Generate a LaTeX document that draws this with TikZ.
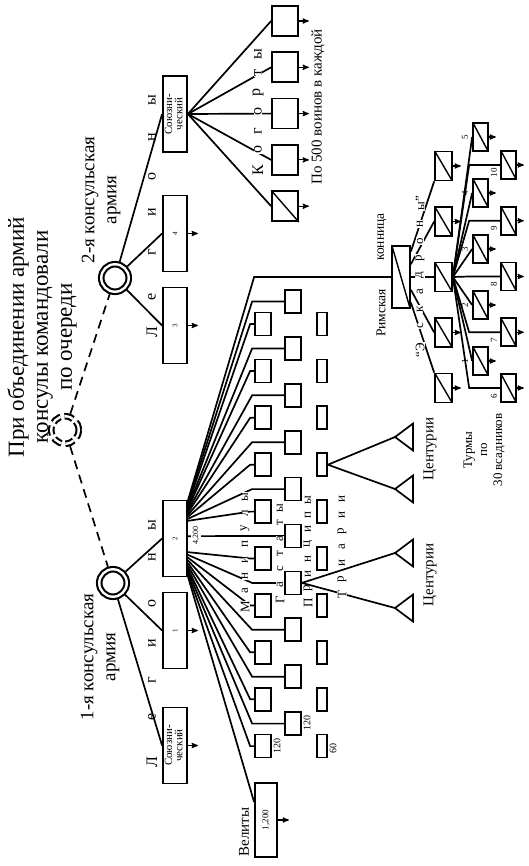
\documentclass[tikz,border=0pt]{standalone}
\usepackage{fontspec}
\setmainfont{Liberation Serif}
\usepackage{graphicx}
\usetikzlibrary{arrows, positioning, calc}
\newcommand{\fsz}[1]{\fontsize{#1}{#1}\selectfont}
\newcommand{\allytext}{\rotatebox{90}{\fontsize{11}{9}\selectfont
    \begin{tabular}{@{}c@{}}Союзни-\\ческий\end{tabular}}}
\tikzset{
    legbox/.style = {draw, line width=1.8pt, inner sep=0pt,
        minimum width=24pt, minimum height=76pt, font=\fsz{7}},
    manbox/.style = {draw, line width=1.7pt, inner sep=0pt,
        minimum width=16pt, minimum height=23pt},
    triabox/.style = {manbox, minimum width=10pt},
    cohbox/.style = {manbox, minimum width=26pt, minimum height=30pt},
    slash/.style = {path picture={\draw[line width=1.4pt]
        (path picture bounding box.north west) -- (path picture bounding box.south east);}},
    eqbox/.style = {manbox, slash, minimum width=17pt, minimum height=29pt},
    turbox/.style = {manbox, slash, minimum width=15pt, minimum height=28pt},
    army/.style = {circle, draw, line width=2.1pt, double, double distance=2.4pt,
        minimum size=27.5pt, inner sep=0pt, outer sep=3.2pt},
    link/.style = {line width=1.7pt},
    tick/.style = {->, >=stealth', line width=1.2pt},
    txt/.style = {rotate=90, inner sep=1pt, align=center},
    ltr/.style = {rotate=90, fill=white, inner sep=0.4pt, font=\fsz{#1}},
}

\begin{document}
\begin{tikzpicture}[x=1pt, y=-1pt]
\useasboundingbox (0,0) rectangle (528,866);

\node[txt, font=\fontsize{23}{24}\selectfont] (title) at (42,337)
    {При объединении армий\\консулы командовали\\по очереди};

% armies
\node[army, dash pattern=on 9pt off 4pt] (union) at (65,430) {};
\node[army] (army2) at (115,278) {};
\node[army] (army1) at (113,583) {};
\draw[link, dash pattern=on 9pt off 6pt] (union) -- (army2) (union) -- (army1);
\node[txt, font=\fontsize{19}{22}\selectfont] at (101,200) {2-я консульская\\армия};
\node[txt, font=\fontsize{19}{22}\selectfont] at (100,657) {1-я консульская\\армия};

% legions
\node[legbox] (ally2) at (175,114) {\allytext};
\node[legbox] (leg4) at (175,233.5) {\rotatebox{90}{4}};
\node[legbox] (leg3) at (175,325.5) {\rotatebox{90}{3}};
\node[legbox] (leg2) at (175,538.5) {\rotatebox{90}{2}};
\node[legbox] (leg1) at (175,630.5) {\rotatebox{90}{1}};
\node[legbox] (ally1) at (175,745.5) {\allytext};
\foreach \n in {ally2,leg4,leg3} \draw[link] (army2) -- (\n.west);
\foreach \n in {leg2,leg1,ally1} \draw[link] (army1) -- (\n.west);
\foreach \n in {leg4,leg3,leg1,ally1} \draw[tick] (\n.east) -- ([xshift=10pt]\n.east);
\foreach \y/\c in {332/Л,297/е,252/г,212/и,177/о,137/н,100/ы,
                   762/Л,717/е,680/г,643/и,603/о,557/н,525/ы}
    \node[rotate=90, font=\fsz{16}] at (152,\y) {\c};

% cohorts
\foreach \i in {0,...,4} {
    \node[cohbox] (coh\i) at (285,21+46.3*\i) {};
    \draw[link] (ally2.east) -- (coh\i.west);
    \draw[tick] (coh\i.east) -- ([xshift=10pt]coh\i.east);
}
\draw[line width=1.4pt] (coh4.north west) -- (coh4.south east);
\foreach \y/\c in {170/К,150/о,131/г,112/о,93/р,73/т,54/ы}
    \node[ltr=16] at (258,\y) {\c};
\node[txt, font=\fsz{15}] at (318,107) {По 500 воинов в каждой};

% maniples
\foreach \i in {0,...,9} {
    \node[manbox] (hast\i) at (263,324+46.9*\i) {};
    \node[manbox] (prin\i) at (293,301.5+46.9*\i) {};
    \node[triabox] (tria\i) at (322,324+46.9*\i) {};
    \pgfmathsetmacro{\ta}{\i<5 ? (5+4*\i)/77 : (52+5.4*(\i-5))/77}
    \pgfmathsetmacro{\tb}{\i<5 ? (3+4*\i)/77 : (\i==5 ? 0.47 : (54.7+5.4*(\i-6))/77)}
    \draw[link] ($(leg2.north east)!\ta!(leg2.south east)$) -- ($(hast\i.west)+(-4,0)$) -- (hast\i.west);
    \draw[link] ($(leg2.north east)!\tb!(leg2.south east)$) -- ($(prin\i.west)+(-32,0)$) -- (prin\i.west);
}
\node[txt, font=\fsz{10}] at (277,746) {120};
\node[txt, font=\fsz{10}] at (307,723) {120};
\node[txt, font=\fsz{10}] at (333,748) {60};

% velites and cavalry
\node[draw, line width=1.8pt, inner sep=0pt, minimum width=22pt, minimum height=74pt,
    font=\fsz{9}] (vel) at (266,820) {\rotatebox{90}{1,200}};
\node[txt, font=\fsz{15}] at (244,832) {Велиты};
\draw[link] ($(leg2.north east)!0.987!(leg2.south east)$) -- ($(vel.west)+(0,-18)$);
\draw[tick] (vel.east) -- ([xshift=11pt]vel.east);
\node[manbox, slash, minimum width=18pt, minimum height=62pt] (cav) at (401,277) {};
\draw[link] ($(leg2.north east)!0.013!(leg2.south east)$) -- (hast0.west |- cav.west) -- (cav.west);
\node[txt, fill=white, font=\fsz{8}, inner sep=2pt] at (196,535) {4,200};

\foreach \y/\c in {607/М,591/а,576/н,560/и,544/п,528/у,513/л,497/ы}
    \node[ltr=13] at (245,\y) {\c};
\foreach \y/\c in {600/Г,585/а,569/с,554/т,539/а,523/т,508/ы}
    \node[ltr=13] at (280,\y) {\c};
\foreach \y/\c in {603/П,588/р,574/и,559/н,544/ц,529/и,515/п,500/ы}
    \node[ltr=13] at (308,\y) {\c};

% centuries
\foreach \n/\y in {cent1/437,cent2/489,cent3/553,cent4/608} {
    \coordinate (\n) at (395,\y);
    \draw[link] (\n) -- ++(18,-13.5) -- ++(0,27) -- cycle;
}
\draw[link] (tria3.east) -- (cent1) (tria3.east) -- (cent2);
\draw[link] (prin6.east) -- (cent3) (prin6.east) -- (cent4);
\foreach \y/\c in {595/Т,579/р,563/и,547/а,531/р,515/и,499/и}
    \node[ltr=13] at (342,\y) {\c};
\node[txt, font=\fsz{15}] at (430,449) {Центурии};
\node[txt, font=\fsz{15}] at (430,575) {Центурии};

% squadrons
\node[txt, font=\fsz{13.5}] at (381,313) {Римская};
\node[txt, font=\fsz{13.5}] at (382,237) {конница};
\foreach \i in {1,...,5} \node[eqbox] (sq\i) at (443.5,166+55.5*\i-55.5) {};
\draw[link] ($(cav.north east)!0.1!(cav.south east)$) -- (sq1.south west);
\draw[link] ($(cav.north east)!0.3!(cav.south east)$) -- (sq2.west);
\draw[link] (cav.east) -- (sq3.west);
\draw[link] ($(cav.north east)!0.7!(cav.south east)$) -- (sq4.west);
\draw[link] ($(cav.north east)!0.9!(cav.south east)$) -- (sq5.north west);
\foreach \n in {sq1,sq2,sq4,sq5} \draw[tick] (\n.east) -- ([xshift=8pt]\n.east);
\foreach \y/\c in {350/“Э,326/с,309/к,292/а,275/д,258/р,241/о,224/н,203/ы”}
    \node[ltr=13] at (420,\y) {\c};

% turmae
\foreach \k in {1,...,5} {
    \node[turbox] (tur\k) at (480.5,361-56*\k+56) {};
    \draw[link] (sq3.east) -- (tur\k.west);
    \node[ltr=9] at (465,361-56*\k+56) {\k};
}
\foreach \k in {6,...,10} {
    \node[turbox] (tur\k) at (508.5,388-55.75*\k+334.5) {};
    \draw[link] (sq3.east) -- ($(tur\k.west)+(-31,0)$) -- (tur\k.west);
    \node[txt, font=\fsz{9}] at (494,396-55.75*\k+334.5) {\k};
}
\foreach \k in {1,...,10} \draw[tick] (tur\k.east) -- ([xshift=7pt]tur\k.east);
\node[txt, font=\fontsize{13}{15}\selectfont] at (484,450) {Турмы\\по\\30 всадников};
\end{tikzpicture}
\end{document}
